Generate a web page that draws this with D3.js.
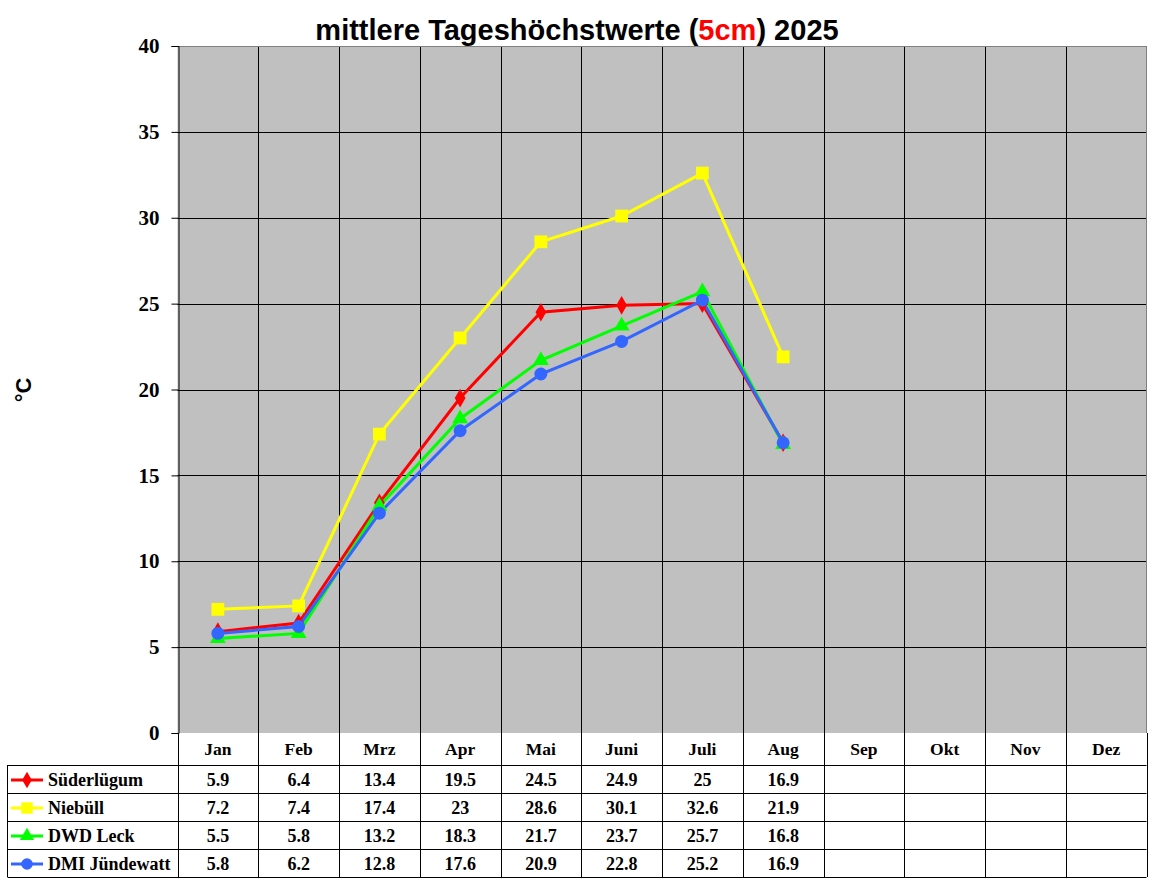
<!DOCTYPE html>
<html><head><meta charset="utf-8">
<script src="https://cdn.jsdelivr.net/npm/d3@7"></script>
<style>body{margin:0;background:#fff}svg{display:block}</style>
</head><body>
<script>
const months = ["Jan","Feb","Mrz","Apr","Mai","Juni","Juli","Aug","Sep","Okt","Nov","Dez"];
const seriesNames = ["Süderlügum","Niebüll","DWD Leck","DMI Jündewatt"];
const seriesColors = ["#ff0000","#ffff00","#00ff00","#3366ff"];
const seriesMarkers = ["diamond","square","triangle","circle"];
const suederluegum = [5.9,6.4,13.4,19.5,24.5,24.9,25,16.9];
const niebuell = [7.2,7.4,17.4,23,28.6,30.1,32.6,21.9];
const dwdLeck = [5.5,5.8,13.2,18.3,21.7,23.7,25.7,16.8];
const dmiJuendewatt = [5.8,6.2,12.8,17.6,20.9,22.8,25.2,16.9];
const yTicks = [0,5,10,15,20,25,30,35,40];
const allSeries = [suederluegum,niebuell,dwdLeck,dmiJuendewatt];

const W=1152,H=882;
const L=177.5,R=1146.5,T=46,B=733;
const svg=d3.select("body").append("svg").attr("width",W).attr("height",H);
const x=d3.scaleBand().domain(months).range([L,R]);
const y=d3.scaleLinear().domain([0,40]).range([B,T]);

svg.append("rect").attr("x",L).attr("y",T).attr("width",R-L).attr("height",B-T).attr("fill","#c0c0c0");
svg.append("g").selectAll("line").data(yTicks.filter(d=>d>0&&d<40)).join("line")
  .attr("x1",L).attr("x2",R).attr("y1",d=>Math.round(y(d))+0.5).attr("y2",d=>Math.round(y(d))+0.5)
  .attr("stroke","#000").attr("stroke-width",1);
svg.append("g").selectAll("line").data(months.slice(1)).join("line")
  .attr("x1",d=>Math.round(x(d))+0.5).attr("x2",d=>Math.round(x(d))+0.5).attr("y1",T).attr("y2",B)
  .attr("stroke","#000");
svg.append("line").attr("x1",L).attr("x2",R).attr("y1",T+0.5).attr("y2",T+0.5).attr("stroke","#808080");
svg.append("line").attr("x1",R).attr("x2",R).attr("y1",T).attr("y2",B).attr("stroke","#808080");
const yAxis=d3.axisLeft(y).tickValues(yTicks).tickSize(7).tickPadding(12);
const ga=svg.append("g").attr("transform",`translate(${Math.round(L)+0.5},0)`).call(yAxis);
ga.select(".domain").attr("stroke","#000");
ga.selectAll(".tick line").attr("stroke","#000");
ga.selectAll(".tick text").attr("font-family","'Liberation Serif','Times New Roman',serif").attr("font-weight","bold").attr("font-size",21).attr("fill","#000");

const title=svg.append("text").attr("x",577).attr("y",40).attr("text-anchor","middle")
  .attr("font-family","'Liberation Sans',Arial,sans-serif").attr("font-weight","bold").attr("font-size",29);
title.append("tspan").text("mittlere Tageshöchstwerte (");
title.append("tspan").attr("fill","#ff0000").text("5cm");
title.append("tspan").text(") 2025");

svg.append("text").attr("transform","translate(31,390) rotate(-90)").attr("text-anchor","middle")
  .attr("font-family","'Liberation Sans',Arial,sans-serif").attr("font-weight","bold").attr("font-size",22).text("°C");

function marker(g,type,color,size){
  if(type==="circle") g.append("circle").attr("r",size*0.48).attr("fill",color);
  else {
    const sym={diamond:d3.symbolDiamond,square:d3.symbolSquare,triangle:d3.symbolTriangle}[type];
    const area={diamond:size*size*0.55,square:size*size*0.9,triangle:size*size*0.6}[type];
    g.append("path").attr("d",d3.symbol(sym,area)()).attr("fill",color);
  }
}
const cx=d=>x(d)+x.bandwidth()/2;
const line=d3.line().x((d,i)=>cx(months[i])).y(d=>y(d));
allSeries.forEach((s,k)=>{
  svg.append("path").datum(s).attr("d",line).attr("fill","none").attr("stroke",seriesColors[k]).attr("stroke-width",3);
});
allSeries.forEach((s,k)=>{
  s.forEach((v,i)=>{
    const g=svg.append("g").attr("transform",`translate(${cx(months[i])},${y(v)})`);
    marker(g,seriesMarkers[k],seriesColors[k],13.5);
  });
});

const tf="'Liberation Serif','Times New Roman',serif";
const rowTop=[765,793,821,849], rowH=28;
const tL=7.5;
const tg=svg.append("g");
months.forEach(m=>{
  tg.append("text").attr("x",cx(m)).attr("y",755).attr("text-anchor","middle")
    .attr("font-family",tf).attr("font-weight","bold").attr("font-size",17.5).text(m);
});
[L,...months.slice(1).map(m=>x(m)),R].forEach(xx=>{
  tg.append("line").attr("x1",Math.round(xx)+0.5).attr("x2",Math.round(xx)+0.5).attr("y1",B).attr("y2",877).attr("stroke","#000");
});
tg.append("line").attr("x1",tL).attr("x2",tL).attr("y1",765).attr("y2",877).attr("stroke","#000");
[765,793,821,849,877].forEach(yy=>{
  tg.append("line").attr("x1",tL).attr("x2",R).attr("y1",yy+0.5).attr("y2",yy+0.5).attr("stroke","#000");
});
seriesNames.forEach((n,k)=>{
  const yc=rowTop[k]+rowH/2;
  tg.append("line").attr("x1",11).attr("x2",43).attr("y1",yc+1).attr("y2",yc+1).attr("stroke",seriesColors[k]).attr("stroke-width",3);
  const g=tg.append("g").attr("transform",`translate(27,${yc+1})`);
  marker(g,seriesMarkers[k],seriesColors[k],12);
  tg.append("text").attr("x",48).attr("y",yc+7).attr("font-family",tf).attr("font-weight","bold").attr("font-size",18).text(n);
  allSeries[k].forEach((v,i)=>{
    tg.append("text").attr("x",cx(months[i])).attr("y",yc+7).attr("text-anchor","middle")
      .attr("font-family",tf).attr("font-weight","bold").attr("font-size",18).text(v);
  });
});
</script>
</body></html>
